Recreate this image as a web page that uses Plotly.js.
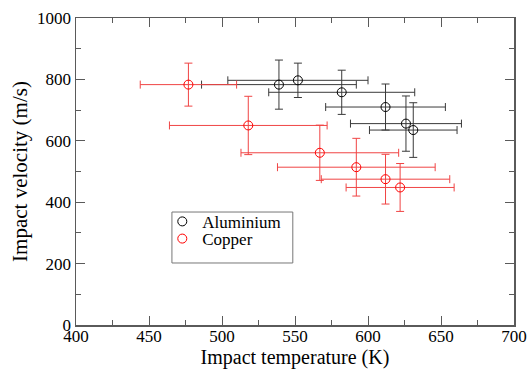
<!DOCTYPE html>
<html>
<head>
<meta charset="utf-8">
<script src="https://cdn.plot.ly/plotly-3.0.1.min.js"></script>
<style>html,body{margin:0;padding:0;background:#fff;}#chart{width:529px;height:369px;}</style>
</head>
<body>
<div id="chart"></div>
<script>
// Aluminium series
const alTemp = [539, 552, 582, 612, 626, 631];
const alTempErr = [53, 48, 50, 41, 38, 30];
const alVel = [783, 797, 758, 710, 656, 635];
const alVelErr = [80, 56, 72, 75, 90, 89];

// Copper series
const cuTemp = [477, 518, 567, 592, 612, 622];
const cuTempErr = [33, 54, 54, 54, 44, 37];
const cuVel = [783, 650, 561, 514, 475, 448];
const cuVelErr = [70, 95, 90, 94, 81, 78];

const seriesNames = ['Aluminium', 'Copper'];

const serif = 'Liberation Serif';

const traces = [
  {
    name: seriesNames[0], type: 'scatter', mode: 'markers', legend: 'legend',
    x: alTemp, y: alVel,
    marker: {symbol: 'circle-open', size: 9, color: '#000', line: {width: 1, color: '#000'}},
    error_x: {type: 'data', array: alTempErr, visible: true, color: '#3a3a3a', thickness: 1, width: 4},
    error_y: {type: 'data', array: alVelErr, visible: true, color: '#3a3a3a', thickness: 1, width: 4}
  },
  {
    name: seriesNames[1], type: 'scatter', mode: 'markers', legend: 'legend2',
    x: cuTemp, y: cuVel,
    marker: {symbol: 'circle-open', size: 9, color: '#ff0000', line: {width: 1, color: '#ff0000'}},
    error_x: {type: 'data', array: cuTempErr, visible: true, color: '#f04444', thickness: 1, width: 4},
    error_y: {type: 'data', array: cuVelErr, visible: true, color: '#f04444', thickness: 1, width: 4}
  }
];

function makeAxis(extra) {
  return Object.assign({
    showgrid: false, zeroline: false, showline: true, mirror: 'ticks',
    linecolor: '#5a5a5a', linewidth: 1.5,
    ticks: 'inside', ticklen: 9, tickwidth: 1, tickcolor: '#5a5a5a',
    tickfont: {family: serif, size: 17, color: '#000'}
  }, extra);
}

function makeLegend(yc) {
  return {
    x: 0.197, y: yc, xanchor: 'left', yanchor: 'middle',
    borderwidth: 0, bgcolor: 'rgba(0,0,0,0)',
    font: {family: serif, size: 17, color: '#000'},
    itemsizing: 'trace'
  };
}

const layout = {
  width: 529, height: 369,
  margin: {l: 76, r: 15, t: 18, b: 44},
  paper_bgcolor: '#fff', plot_bgcolor: '#fff',
  font: {family: serif, color: '#000'},
  showlegend: true,
  legend: makeLegend(0.336),
  legend2: makeLegend(0.280),
  shapes: [{
    type: 'rect', xref: 'paper', yref: 'paper',
    x0: 0.219, x1: 0.495, y0: 0.202, y1: 0.368,
    line: {color: '#777', width: 1}, fillcolor: 'rgba(0,0,0,0)', layer: 'above'
  }],
  xaxis: makeAxis({
    range: [400, 700], dtick: 50, tick0: 400, automargin: false,
    ticklabelstandoff: -5,
    minor: {dtick: 25, ticks: 'inside', ticklen: 5, tickcolor: '#5a5a5a', tickwidth: 1},
    title: {text: 'Impact temperature (K)', font: {family: serif, size: 20, color: '#000'}, standoff: 0}
  }),
  yaxis: makeAxis({
    range: [0, 1000], dtick: 200, tick0: 0, automargin: false,
    minor: {dtick: 100, ticks: 'inside', ticklen: 5, tickcolor: '#5a5a5a', tickwidth: 1},
    title: {text: 'Impact velocity (m/s)', font: {family: serif, size: 21, color: '#000'}, standoff: 3}
  })
};

Plotly.newPlot('chart', traces, layout, {displayModeBar: false, staticPlot: true});
</script>
</body>
</html>
